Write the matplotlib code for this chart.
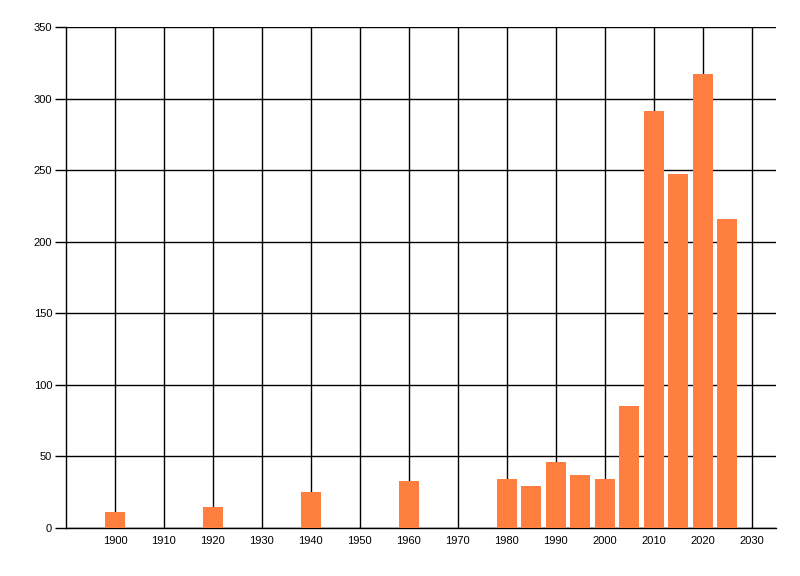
import matplotlib
matplotlib.use('Agg')
import matplotlib.pyplot as plt

years = [1900, 1920, 1940, 1960, 1980, 1985, 1990, 1995, 2000, 2005, 2010, 2015, 2020, 2025]
counts = [11, 15, 25, 33, 34, 29, 46, 37, 34, 85, 291, 247, 317, 216]
xticks = list(range(1900, 2031, 10))
yticks = list(range(0, 351, 50))

plt.rcParams['font.family'] = ['Liberation Sans', 'DejaVu Sans']

fig = plt.figure(figsize=(8, 5.76), dpi=100)
ax = fig.add_axes([66/800, 1 - 528/576, 710/800, 501/576])

ax.bar(years, counts, width=4.1, color='#FF7F40', zorder=3)

ax.set_xlim(1890, 2035)
ax.set_ylim(0, 350)
ax.set_xticks(xticks)
ax.set_yticks(yticks)
ax.grid(True, color='black', lw=1, zorder=1)
for s in ['top', 'right']:
    ax.spines[s].set_visible(False)
for s in ['left', 'bottom']:
    ax.spines[s].set_color('black')
    ax.spines[s].set_linewidth(1)
ax.tick_params(axis='y', length=8, width=1, labelsize=8, pad=2)
ax.tick_params(axis='x', length=0, labelsize=8, pad=6)

plt.savefig('out.png', dpi=100)
plt.close()
